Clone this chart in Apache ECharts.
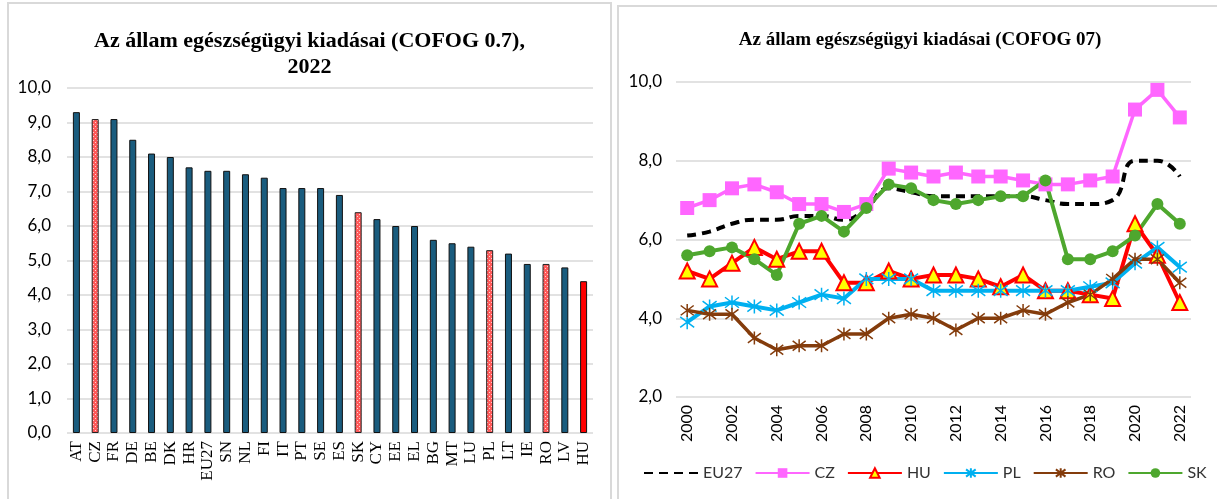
<!DOCTYPE html>
<html>
<head>
<meta charset="utf-8">
<script src="https://cdn.jsdelivr.net/npm/echarts@6/dist/echarts.min.js"></script>
<style>
  html, body { margin: 0; padding: 0; background: #fff; overflow: hidden; }
  .panel { position: absolute; box-sizing: border-box; border: 2px solid #d9d9d9; background: #fff; }
  #bar { left: 7px; top: 2px; width: 605px; height: 520px; }
  #line { left: 617px; top: 5px; width: 606px; height: 520px; }
</style>
</head>
<body>
<div id="bar" class="panel"></div>
<div id="line" class="panel"></div>
<script>
// 2022 bar chart
const countries = ['AT', 'CZ', 'FR', 'DE', 'BE', 'DK', 'HR', 'EU27', 'SN', 'NL', 'FI', 'IT', 'PT', 'SE',
  'ES', 'SK', 'CY', 'EE', 'EL', 'BG', 'MT', 'LU', 'PL', 'LT', 'IE', 'RO', 'LV', 'HU']
const values2022 = [9.3, 9.1, 9.1, 8.5, 8.1, 8.0, 7.7, 7.6, 7.6, 7.5, 7.4, 7.1, 7.1, 7.1,
  6.9, 6.4, 6.2, 6.0, 6.0, 5.6, 5.5, 5.4, 5.3, 5.2, 4.9, 4.9, 4.8, 4.4]
const neighbours = ['CZ', 'SK', 'PL', 'RO']
const home = 'HU'

// time series 2000-2022
const years = ['2000', '2001', '2002', '2003', '2004', '2005', '2006', '2007', '2008', '2009', '2010', '2011',
  '2012', '2013', '2014', '2015', '2016', '2017', '2018', '2019', '2020', '2021', '2022']
const eu27 = [6.1, 6.2, 6.4, 6.5, 6.5, 6.6, 6.6, 6.5, 6.8, 7.3, 7.2, 7.1, 7.1, 7.1, 7.1, 7.1, 7.0, 6.9, 6.9, 7.0, 8.0, 8.0, 7.6]
const cz = [6.8, 7.0, 7.3, 7.4, 7.2, 6.9, 6.9, 6.7, 6.9, 7.8, 7.7, 7.6, 7.7, 7.6, 7.6, 7.5, 7.4, 7.4, 7.5, 7.6, 9.3, 9.8, 9.1]
const hu = [5.2, 5.0, 5.4, 5.8, 5.5, 5.7, 5.7, 4.9, 4.9, 5.2, 5.0, 5.1, 5.1, 5.0, 4.8, 5.1, 4.7, 4.7, 4.6, 4.5, 6.4, 5.6, 4.4]
const pl = [3.9, 4.3, 4.4, 4.3, 4.2, 4.4, 4.6, 4.5, 5.0, 5.0, 5.0, 4.7, 4.7, 4.7, 4.7, 4.7, 4.7, 4.7, 4.8, 4.9, 5.4, 5.8, 5.3]
const ro = [4.2, 4.1, 4.1, 3.5, 3.2, 3.3, 3.3, 3.6, 3.6, 4.0, 4.1, 4.0, 3.7, 4.0, 4.0, 4.2, 4.1, 4.4, 4.6, 5.0, 5.5, 5.5, 4.9]
const sk = [5.6, 5.7, 5.8, 5.5, 5.1, 6.4, 6.6, 6.2, 6.8, 7.4, 7.3, 7.0, 6.9, 7.0, 7.1, 7.1, 7.5, 5.5, 5.5, 5.7, 6.1, 6.9, 6.4]

const comma = v => v.toFixed(1).replace('.', ',')
const gridLine = { show: true, lineStyle: { color: '#d9d9d9', width: 1.5 } }
const asterisk = 'path://M0,-10L0,10M-7.5,-7.5L7.5,7.5M-7.5,7.5L7.5,-7.5'

// dotted pink fill for the neighbour countries
function dotPattern() {
  const c = document.createElement('canvas')
  c.width = 4
  c.height = 4
  const ctx = c.getContext('2d')
  ctx.fillStyle = '#ff5a5a'
  ctx.fillRect(0, 0, 4, 4)
  ctx.fillStyle = '#ffd0d0'
  ctx.fillRect(0, 0, 1, 1)
  ctx.fillRect(2, 2, 1, 1)
  return c
}
const pinkFill = { image: dotPattern(), repeat: 'repeat' }

// bar colours per country
const barData = values2022.map((v, i) => {
  const c = countries[i]
  let style = { color: '#1a5c7e', borderColor: '#111', borderWidth: 1 }
  if (c === home) style = { color: '#ff0000', borderColor: '#111', borderWidth: 1 }
  if (neighbours.includes(c)) style = { color: pinkFill, borderColor: '#222', borderWidth: 1 }
  return { value: v, itemStyle: style }
})

const barChart = echarts.init(document.getElementById('bar'))
barChart.setOption({
  animation: false,
  title: {
    text: 'Az állam egészségügyi kiadásai (COFOG 0.7),\n2022',
    left: 'center',
    top: 19,
    textStyle: { fontFamily: 'Liberation Serif', fontWeight: 'bold', fontSize: 22, lineHeight: 26, color: '#000' }
  },
  grid: { left: 58, top: 84, width: 526, height: 345 },
  xAxis: {
    type: 'category',
    data: countries,
    axisLine: { show: false },
    axisTick: { show: false },
    axisLabel: { rotate: 90, interval: 0, fontFamily: 'Liberation Serif', fontSize: 17, color: '#000', margin: 8 }
  },
  yAxis: {
    type: 'value',
    min: 0,
    max: 10,
    interval: 1,
    splitLine: gridLine,
    axisLabel: { formatter: comma, fontFamily: 'Lato', fontSize: 17, color: '#000', margin: 16 }
  },
  series: [{ type: 'bar', data: barData, barWidth: 7 }]
})

const lineChart = echarts.init(document.getElementById('line'))
lineChart.setOption({
  animation: false,
  title: {
    text: 'Az állam egészségügyi kiadásai (COFOG 07)',
    left: 'center',
    top: 19,
    textStyle: { fontFamily: 'Liberation Serif', fontWeight: 'bold', fontSize: 19, color: '#000' }
  },
  legend: {
    top: 458,
    left: 24,
    width: 640,
    padding: 0,
    itemWidth: 54,
    itemHeight: 12,
    itemGap: 12,
    textStyle: { fontFamily: 'Lato', fontSize: 16, color: '#333' },
    data: [{ name: 'EU27', itemStyle: { opacity: 0 } }, 'CZ', 'HU', 'PL', 'RO', 'SK']
  },
  grid: { left: 57, top: 75, width: 515, height: 315 },
  xAxis: {
    type: 'category',
    data: years,
    axisLine: { show: false },
    axisTick: { show: false },
    axisLabel: { rotate: 90, interval: 1, fontFamily: 'Lato', fontSize: 16, color: '#000', margin: 8 }
  },
  yAxis: {
    type: 'value',
    min: 2,
    max: 10,
    interval: 2,
    splitLine: gridLine,
    axisLabel: { formatter: comma, fontFamily: 'Lato', fontSize: 17, color: '#000', margin: 14 }
  },
  series: [
    {
      name: 'EU27', type: 'line', data: eu27, smooth: true, showSymbol: false, symbol: 'none',
      lineStyle: { color: '#000', width: 4, type: [9, 6] }, itemStyle: { color: '#000' }
    },
    {
      name: 'CZ', type: 'line', data: cz, symbol: 'rect', symbolSize: 14, showAllSymbol: true,
      lineStyle: { color: '#ff66ff', width: 3.5 }, itemStyle: { color: '#ff66ff' }
    },
    {
      name: 'HU', type: 'line', data: hu, symbol: 'triangle', symbolSize: 15, showAllSymbol: true,
      lineStyle: { color: '#ff0000', width: 4 },
      itemStyle: { color: '#ffff00', borderColor: '#ff0000', borderWidth: 2 }
    },
    {
      name: 'PL', type: 'line', data: pl, symbol: asterisk, symbolSize: 14, showAllSymbol: true,
      lineStyle: { color: '#00b0f0', width: 4 },
      itemStyle: { color: '#00b0f0', borderColor: '#00b0f0', borderWidth: 1.5 }
    },
    {
      name: 'RO', type: 'line', data: ro, symbol: asterisk, symbolSize: 13, showAllSymbol: true,
      lineStyle: { color: '#843c0c', width: 3.5 },
      itemStyle: { color: '#843c0c', borderColor: '#843c0c', borderWidth: 1.5 }
    },
    {
      name: 'SK', type: 'line', data: sk, symbol: 'circle', symbolSize: 12, showAllSymbol: true,
      lineStyle: { color: '#4ea72e', width: 4 }, itemStyle: { color: '#4ea72e' }
    }
  ]
})
</script>
</body>
</html>
